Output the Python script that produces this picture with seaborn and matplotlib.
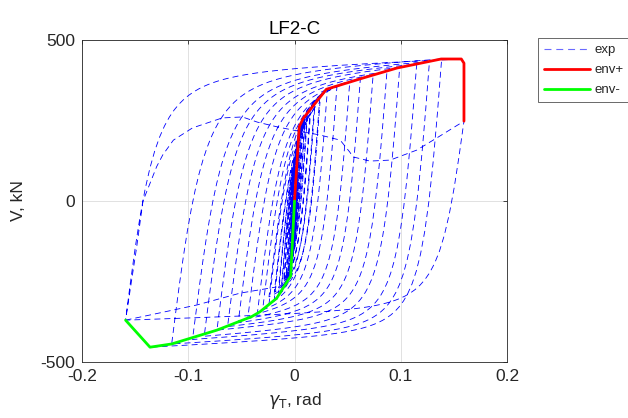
import numpy as np
import pandas as pd
import matplotlib
matplotlib.use("Agg")
import matplotlib.pyplot as plt
from matplotlib.lines import Line2D
import seaborn as sns

# ---------------- data ----------------
# envelopes
env_pos_g = [0.0, 0.0045, 0.0083, 0.030, 0.0645, 0.0965, 0.138, 0.157, 0.1595, 0.1595]
env_pos_v = [0, 231, 257, 347, 382, 413, 441, 441, 428, 248]
env_neg_g = [0.0, -0.0036, -0.0168, -0.0325, -0.0403, -0.073, -0.1156, -0.136, -0.159]
env_neg_v = [0, -233, -302, -344, -359, -401, -444, -454, -370]

# cycle peaks (positive / negative excursions) and number of cycles per level
cyc_pos_g = [0.002, 0.003, 0.004, 0.005, 0.0065, 0.008, 0.010, 0.012, 0.015, 0.019, 0.024,
             0.031, 0.040, 0.052, 0.062, 0.074, 0.087, 0.099, 0.115, 0.127, 0.1385]
cyc_pos_v = [110, 160, 205, 235, 245, 255, 265, 275, 290, 310, 330,
             348, 358, 370, 380, 392, 402, 415, 425, 433, 441]
cyc_neg_g = [-0.002, -0.003, -0.004, -0.005, -0.0065, -0.008, -0.010, -0.012, -0.015, -0.019, -0.024,
             -0.030, -0.035, -0.044, -0.053, -0.063, -0.073, -0.085, -0.096, -0.1156, -0.136]
cyc_neg_v = [-110, -160, -205, -235, -245, -255, -265, -275, -290, -305, -320,
             -338, -350, -365, -378, -390, -401, -420, -430, -444, -454]
cyc_count = [2, 2, 2, 2, 2, 2, 2, 2, 2, 2, 2,
             1, 1, 1, 1, 1, 1, 1, 1, 1, 1]

# last excursions (peaks)
last_pos_g = [0.157, 0.1595, 0.1595]
last_pos_v = [441, 428, 248]
last_neg_g = -0.159
last_neg_v = -370

# final degraded reload (read points)
tail_g = [-0.159, -0.1485, -0.1426, -0.1297, -0.124, -0.114, -0.096, -0.068, -0.049, -0.035,
          -0.016, -0.001, 0.024, 0.043, 0.052, 0.055, 0.071, 0.090, 0.115, 0.134, 0.1595]
tail_v = [-370, -142, 0, 107, 143, 189, 227, 258, 261, 245,
          230, 220, 205, 189, 152, 137, 124, 127, 158, 196, 248]
# drift line along the bottom (read points)
drift_g = [-0.159, -0.136, -0.092, -0.051, -0.017]
drift_v = [-370, -354, -323, -286, -267]


def branch(g0, v0, g1, v1, K, R, b=0.05, n=70):
    u = np.linspace(0, 1, n)
    a = min(abs(v1 - v0) / (K * abs(g1 - g0)), 0.55)
    xs = u / a
    f = (1 - b) * xs / (1 + xs ** R) ** (1 / R) + b * u
    f = f / f[-1]
    return list(g0 + (g1 - g0) * u), list(v0 + (v1 - v0) * f)


K_UN, R_UN = 45000, 2.0
K_RE, R_RE = 27000, 2.0

G, V = [0.0], [0.0]
cur = (0.0, 0.0)
for gp, vp, gn, vn, cnt in zip(cyc_pos_g, cyc_pos_v, cyc_neg_g, cyc_neg_v, cyc_count):
    for k in range(cnt):
        sc = 1.0 if k == 0 else 0.93
        g, v = branch(cur[0], cur[1], gp, vp * sc, K_RE, R_RE)
        G += g[1:]; V += v[1:]
        g, v = branch(gp, vp * sc, gn, vn * sc, K_UN, R_UN)
        G += g[1:]; V += v[1:]
        cur = (gn, vn * sc)
# drop to last negative peak
G.append(last_neg_g); V.append(last_neg_v)
g, v = branch(last_neg_g, last_neg_v, last_pos_g[0], last_pos_v[0], K_RE, R_RE)
G += g[1:]; V += v[1:]
G += last_pos_g[1:]; V += last_pos_v[1:]
g, v = branch(last_pos_g[-1], last_pos_v[-1], last_neg_g, last_neg_v, 25000, 2.0)
G += g[1:]; V += v[1:]
G += tail_g[1:]; V += tail_v[1:]

exp_df = pd.DataFrame({"g": G, "V": V, "seg": 0})
drift_df = pd.DataFrame({"g": drift_g, "V": drift_v, "seg": 1})
exp_all = pd.concat([exp_df, drift_df], ignore_index=True)

envp = pd.DataFrame({"g": env_pos_g, "V": env_pos_v})
envn = pd.DataFrame({"g": env_neg_g, "V": env_neg_v})

# ---------------- plotting ----------------
sns.set_theme(style="white")
plt.rcParams["font.family"] = ["Liberation Sans", "DejaVu Sans"]
plt.rcParams["lines.scale_dashes"] = False

fig = plt.figure(figsize=(6.28, 4.18), dpi=100)
ax = fig.add_axes([82 / 628, 1 - 362 / 418, 425 / 628, 322 / 418])

dash = (0, (4.3, 2.9))
for sid, sub in exp_all.groupby("seg"):
    sns.lineplot(data=sub, x="g", y="V", sort=False, estimator=None, ax=ax,
                 color="#0000ff", lw=0.6, linestyle=dash)
sns.lineplot(data=envp, x="g", y="V", sort=False, estimator=None, ax=ax,
             color="#ff0000", lw=2.0)
sns.lineplot(data=envn, x="g", y="V", sort=False, estimator=None, ax=ax,
             color="#00ff00", lw=2.0)

ax.set_xlim(-0.2, 0.2)
ax.set_ylim(-500, 500)
ax.set_xticks([-0.2, -0.1, 0, 0.1, 0.2])
ax.set_xticklabels(["-0.2", "-0.1", "0", "0.1", "0.2"])
ax.set_yticks([-500, 0, 500])
ax.set_yticklabels(["-500", "0", "500"])
ax.grid(True, color="#dcdcdc", lw=0.6)
ax.set_axisbelow(True)
for s in ax.spines.values():
    s.set_color("#262626")
    s.set_linewidth(0.6)
ax.tick_params(direction="in", length=3, width=0.6, colors="#262626",
               labelsize=12.5, top=True, right=True, pad=5, labelcolor="#262626")
ax.set_title("LF2-C", fontsize=13.5, color="#000000", pad=4)
ax.set_xlabel(r"$\gamma_{\rm T}$, rad", fontsize=12.5, color="#262626", labelpad=5)
ax.set_ylabel("V, kN", fontsize=12.5, color="#262626", labelpad=10)

handles = [Line2D([], [], color="#6a6aff", lw=0.8, linestyle=(0, (5, 3.5))),
           Line2D([], [], color="#ff0000", lw=2.0),
           Line2D([], [], color="#00ff00", lw=2.0)]
leg = fig.legend(handles, ["exp", "env+", "env-"], loc="upper left",
                 bbox_to_anchor=(538 / 628, 1 - 38 / 418), fontsize=9.5,
                 frameon=True, fancybox=False, edgecolor="#262626",
                 handlelength=3.5, handletextpad=0.35, labelspacing=0.6,
                 borderpad=0.45, borderaxespad=0)
leg.get_frame().set_linewidth(0.6)

fig.savefig("out.png", dpi=100)
